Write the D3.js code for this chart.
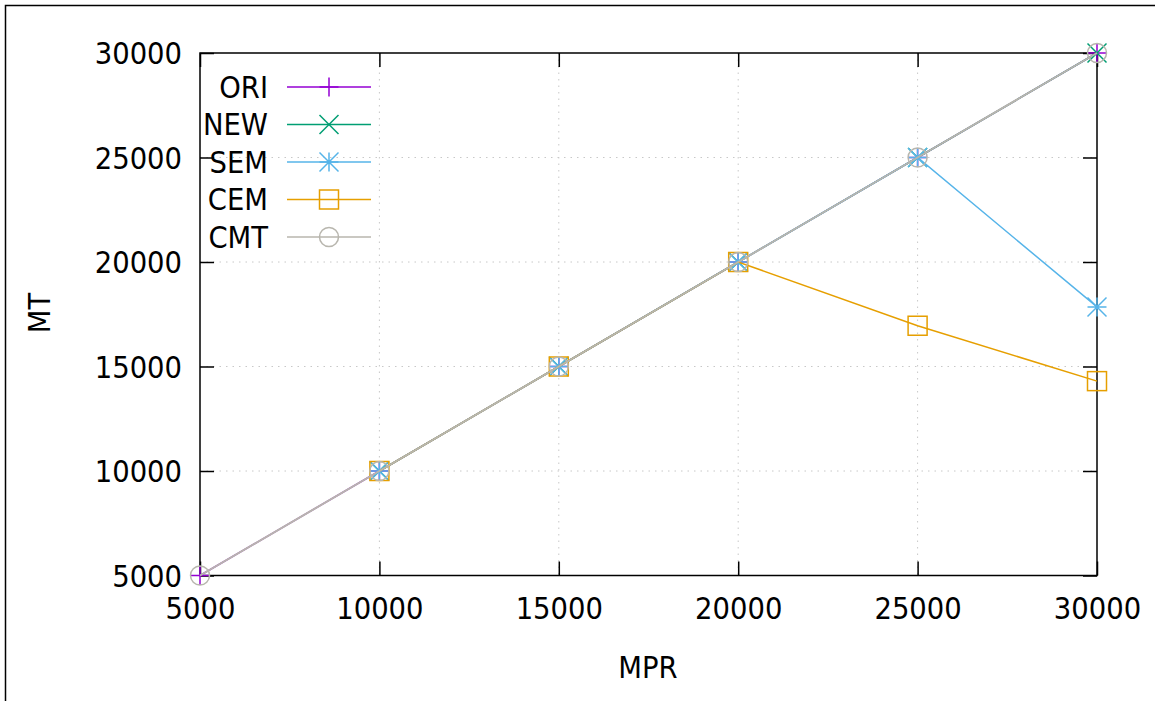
<!DOCTYPE html>
<html>
<head>
<meta charset="utf-8">
<script src="https://cdn.jsdelivr.net/npm/d3@7"></script>
<style>
  html, body { margin: 0; padding: 0; background: #fff; }
  svg { display: block; }
  text { font-family: "DejaVu Sans Condensed", "DejaVu Sans", sans-serif; font-stretch: condensed; }
</style>
</head>
<body>
<svg id="chart" width="1155" height="701"></svg>
<script>
const mpr = [5000, 10000, 15000, 20000, 25000, 30000];
const ori = [5000, 10000, 15000, 20000, 25000, 30000];
const newS = [null, 10000, 15000, 20000, 25000, 30000];
const sem = [null, 10000, 15000, 20000, 25000, 17850];
const cem = [null, 10000, 15000, 20000, 16950, 14300];
const cmt = [5000, 10000, 15000, 20000, 25000, 30000];
const seriesNames = ["ORI", "NEW", "SEM", "CEM", "CMT"];
const seriesColors = ["#9400d3", "#009e73", "#56b4e9", "#e69f00", "#b8b6ae"];
const seriesMarkers = ["plus", "cross", "star", "square", "circle"];
const xTicks = [5000, 10000, 15000, 20000, 25000, 30000];
const yTicks = [5000, 10000, 15000, 20000, 25000, 30000];

const seriesValues = [ori, newS, sem, cem, cmt];

const svg = d3.select("#chart");
const pLeft = 200, pRight = 1097, pTop = 53, pBottom = 575.5;
const x = d3.scaleLinear().domain([5000, 30000]).range([pLeft, pRight]);
const y = d3.scaleLinear().domain([5000, 30000]).range([pBottom, pTop]);

// outer frame
svg.append("path").attr("d", `M5.5,701 V5.5 H1155`).attr("fill", "none").attr("stroke", "#000").attr("stroke-width", 1.5);

// grid
const grid = svg.append("g").attr("stroke", "#c8c8c8").attr("stroke-width", 1).attr("stroke-dasharray", "1.5,5");
xTicks.slice(1, -1).forEach(t => {
  grid.append("line").attr("x1", x(t)).attr("x2", x(t)).attr("y1", pTop).attr("y2", pBottom);
});
yTicks.slice(1, -1).forEach(t => {
  grid.append("line").attr("y1", y(t)).attr("y2", y(t)).attr("x1", pLeft).attr("x2", pRight);
});

// axes with inward ticks (mirrored)
const tickLen = 14;
const fs = 30.5;
const axB = svg.append("g").attr("transform", `translate(0,${pBottom})`)
  .call(d3.axisBottom(x).tickValues(xTicks).tickSizeInner(-tickLen).tickSizeOuter(0).tickPadding(22).tickFormat(d3.format("d")));
const axT = svg.append("g").attr("transform", `translate(0,${pTop})`)
  .call(d3.axisTop(x).tickValues(xTicks).tickSizeInner(-tickLen).tickSizeOuter(0).tickFormat(""));
const axL = svg.append("g").attr("transform", `translate(${pLeft},0)`)
  .call(d3.axisLeft(y).tickValues(yTicks).tickSizeInner(-tickLen).tickSizeOuter(0).tickPadding(18).tickFormat(d3.format("d")));
const axR = svg.append("g").attr("transform", `translate(${pRight},0)`)
  .call(d3.axisRight(y).tickValues(yTicks).tickSizeInner(-tickLen).tickSizeOuter(0).tickFormat(""));
[axB, axT, axL, axR].forEach(a => {
  a.attr("font-family", null).attr("font-size", null);
  a.selectAll(".domain").remove();
  a.selectAll(".tick line").attr("stroke", "#000").attr("stroke-width", 1.5);
  a.selectAll("text").attr("font-size", fs).attr("fill", "#000");
});
axB.selectAll("text").attr("dy", "0.71em");
axL.selectAll("text").attr("dy", "0.36em");

// border
svg.append("rect").attr("x", pLeft).attr("y", pTop).attr("width", pRight - pLeft).attr("height", pBottom - pTop)
  .attr("fill", "none").attr("stroke", "#000").attr("stroke-width", 1.5);

// axis titles
svg.append("text").attr("x", 648).attr("y", 667).attr("text-anchor", "middle").attr("dy", "0.36em")
  .attr("font-size", fs).text("MPR");
svg.append("text").attr("transform", "translate(39,313) rotate(-90)").attr("text-anchor", "middle").attr("dy", "0.36em")
  .attr("font-size", fs).text("MT");

function drawMarker(g, type, cx, cy, color) {
  const s = 9.5;
  if (type === "plus") {
    g.append("path").attr("d", `M${cx - s},${cy}H${cx + s}M${cx},${cy - s}V${cy + s}`).attr("stroke", color).attr("stroke-width", 1.5).attr("fill", "none");
  } else if (type === "cross") {
    g.append("path").attr("d", `M${cx - s},${cy - s}L${cx + s},${cy + s}M${cx - s},${cy + s}L${cx + s},${cy - s}`).attr("stroke", color).attr("stroke-width", 1.5).attr("fill", "none");
  } else if (type === "star") {
    g.append("path").attr("d", `M${cx - s},${cy}H${cx + s}M${cx},${cy - s}V${cy + s}M${cx - s},${cy - s}L${cx + s},${cy + s}M${cx - s},${cy + s}L${cx + s},${cy - s}`).attr("stroke", color).attr("stroke-width", 1.5).attr("fill", "none");
  } else if (type === "square") {
    g.append("rect").attr("x", cx - s).attr("y", cy - s).attr("width", 2 * s).attr("height", 2 * s).attr("stroke", color).attr("stroke-width", 1.5).attr("fill", "none");
  } else if (type === "circle") {
    g.append("circle").attr("cx", cx).attr("cy", cy).attr("r", s).attr("stroke", color).attr("stroke-width", 1.5).attr("fill", "none");
  }
}

// series
const plot = svg.append("g");
seriesValues.forEach((vals, i) => {
  const pts = mpr.map((m, j) => ({ m, v: vals[j] })).filter(d => d.v !== null);
  const line = d3.line().x(d => x(d.m)).y(d => y(d.v));
  plot.append("path").datum(pts).attr("d", line).attr("fill", "none")
    .attr("stroke", seriesColors[i]).attr("stroke-width", i === 4 ? 2 : 1.5);
  pts.forEach(d => drawMarker(plot, seriesMarkers[i], x(d.m), y(d.v), seriesColors[i]));
});

// legend
const legend = svg.append("g");
seriesNames.forEach((name, i) => {
  const ly = 87 + i * 37.5;
  legend.append("text").attr("x", 268).attr("y", ly).attr("dy", "0.36em").attr("text-anchor", "end")
    .attr("font-size", fs).text(name);
  legend.append("line").attr("x1", 287).attr("x2", 371).attr("y1", ly).attr("y2", ly)
    .attr("stroke", seriesColors[i]).attr("stroke-width", 1.5);
  drawMarker(legend, seriesMarkers[i], 329, ly, seriesColors[i]);
});
</script>
</body>
</html>
